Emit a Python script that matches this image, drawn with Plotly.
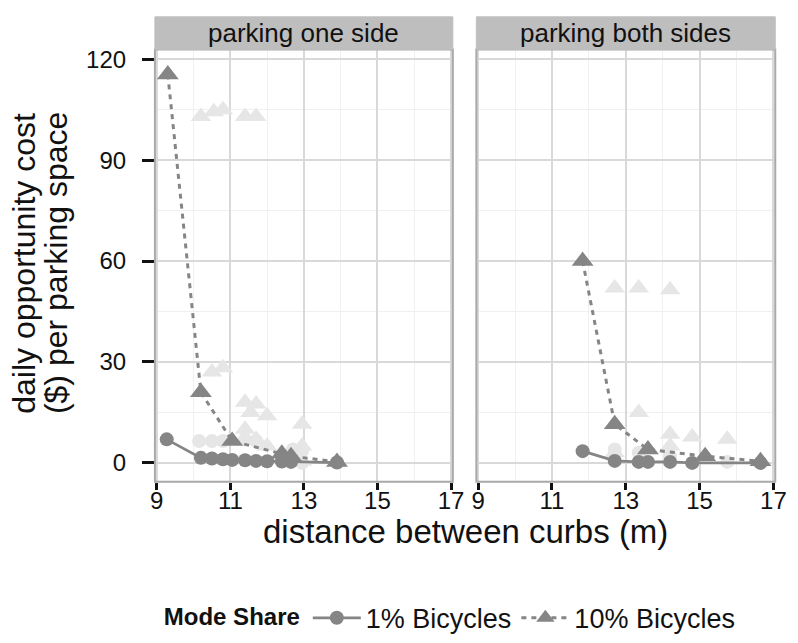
import plotly.graph_objects as go

W, H = 798, 643

# ---- data -------------------------------------------------------------
panels = ["parking one side", "parking both sides"]

# highlighted scenario, parking one side
one_x_1pct = [9.27, 10.2, 10.5, 10.8, 11.05, 11.4, 11.7, 12.0, 12.4, 12.65, 13.9]
one_y_1pct = [7.0, 1.5, 1.3, 1.1, 0.9, 0.8, 0.6, 0.5, 0.4, 0.3, 0.1]
one_x_10pct = [9.3, 10.2, 11.05, 12.4, 12.65, 13.9]
one_y_10pct = [115.5, 21.0, 6.5, 2.7, 2.0, 0.3]

# highlighted scenario, parking both sides
both_x_1pct = [11.83, 12.7, 13.35, 13.6, 14.2, 14.8, 16.65]
both_y_1pct = [3.5, 0.6, 0.3, 0.3, 0.3, 0.0, 0.0]
both_x_10pct = [11.83, 12.7, 13.6, 15.15, 16.65]
both_y_10pct = [60.0, 11.5, 4.0, 2.0, 0.5]

# other scenarios (background)
one_bg_tri_x = [10.2, 10.55, 10.8, 11.4, 11.7, 10.5, 10.8, 11.4, 11.7, 12.0, 11.55, 12.95, 11.4, 11.7, 12.0, 12.95, 12.95]
one_bg_tri_y = [103, 104.4, 105, 103, 103, 27, 28.3, 18, 17.5, 14, 15, 11.5, 10, 7, 5, 5, 0.5]
one_bg_dot_x = [10.15, 10.5, 10.8, 11.4, 11.7, 12.7, 12.95, 12.95]
one_bg_dot_y = [6.5, 6.5, 6.5, 7, 6.5, 4, 3.5, 0]

both_bg_tri_x = [12.7, 13.35, 14.2, 13.35, 14.2, 14.2, 14.8, 15.75, 12.7, 13.6]
both_bg_tri_y = [52, 52, 51.5, 15, 8.5, 5, 7.7, 7, 3, 4]
both_bg_dot_x = [12.7, 13.35, 14.2, 15.75]
both_bg_dot_y = [4, 3, 2, 0.3]

x_ticks = [9, 11, 13, 15, 17]
y_ticks = [0, 30, 60, 90, 120]

# ---- styling ----------------------------------------------------------
FONT = "Liberation Sans, Arial, Helvetica, sans-serif"
INK = "#111111"
DARK = "#858585"
FAINT = "#e6e6e6"
px_x = lambda p: p / W
px_y = lambda p: 1 - p / H

left_dom = [px_x(153), px_x(457)]
right_dom = [px_x(481), px_x(786)]
panel_top, panel_bot = 46, 483
strip_top = 13
y_dom = [px_y(panel_bot), px_y(panel_top)]

fig = go.Figure()


def add_panel(xa, ya, bg_tx, bg_ty, bg_dx, bg_dy, x1, y1, x10, y10, legend):
    fig.add_trace(go.Scatter(x=bg_tx, y=bg_ty, mode="markers", xaxis=xa, yaxis=ya,
                             marker=dict(symbol="triangle-up", size=18, color=FAINT),
                             showlegend=False, hoverinfo="skip"))
    fig.add_trace(go.Scatter(x=bg_dx, y=bg_dy, mode="markers", xaxis=xa, yaxis=ya,
                             marker=dict(symbol="circle", size=14, color=FAINT),
                             showlegend=False, hoverinfo="skip"))
    fig.add_trace(go.Scatter(x=x1, y=y1, mode="lines+markers", xaxis=xa, yaxis=ya,
                             name="1% Bicycles", legendgroup="1", showlegend=legend,
                             line=dict(color=DARK, width=2.8),
                             marker=dict(symbol="circle", size=14, color=DARK)))
    fig.add_trace(go.Scatter(x=x10, y=y10, mode="lines+markers", xaxis=xa, yaxis=ya,
                             name="10% Bicycles", legendgroup="10", showlegend=legend,
                             line=dict(color=DARK, width=3, dash="5px,5px"),
                             marker=dict(symbol="triangle-up", size=19, color=DARK)))


add_panel("x", "y", one_bg_tri_x, one_bg_tri_y, one_bg_dot_x, one_bg_dot_y,
          one_x_1pct, one_y_1pct, one_x_10pct, one_y_10pct, True)
add_panel("x2", "y2", both_bg_tri_x, both_bg_tri_y, both_bg_dot_x, both_bg_dot_y,
          both_x_1pct, both_y_1pct, both_x_10pct, both_y_10pct, False)

xcommon = dict(range=[8.95, 17.05], tickmode="array", tickvals=x_ticks,
               showgrid=True, gridcolor="#d9d9d9", gridwidth=1.8,
               minor=dict(tickmode="array", tickvals=[10, 12, 14, 16], showgrid=True,
                          gridcolor="#f0f0f0", gridwidth=1.2, ticks=""),
               ticks="outside", ticklen=7, tickwidth=2.6, tickcolor=INK,
               ticklabelstandoff=-10,
               tickfont=dict(family=FONT, size=24, color=INK),
               zeroline=False, showline=False)
ycommon = dict(range=[-5.6, 122.9], tickmode="array", tickvals=y_ticks,
               showgrid=True, gridcolor="#d9d9d9", gridwidth=1.8,
               minor=dict(tickmode="array", tickvals=[15, 45, 75, 105], showgrid=True,
                          gridcolor="#f0f0f0", gridwidth=1.2, ticks=""),
               zeroline=False, showline=False, domain=y_dom)

fig.update_layout(
    width=W, height=H, margin=dict(l=0, r=0, t=0, b=0),
    paper_bgcolor="white", plot_bgcolor="white",
    xaxis=dict(domain=left_dom, anchor="y", **xcommon),
    xaxis2=dict(domain=right_dom, anchor="y2", **xcommon),
    yaxis=dict(anchor="x", ticks="outside", ticklen=12, tickwidth=2.6, tickcolor=INK,
               ticklabelstandoff=11,
               tickfont=dict(family=FONT, size=24, color=INK), **ycommon),
    yaxis2=dict(anchor="x2", matches="y", showticklabels=False, ticks="", **ycommon),
    showlegend=True,
    legend=dict(orientation="h", x=px_x(160), xanchor="left", y=px_y(621), yanchor="middle",
                font=dict(family=FONT, size=27, color=INK),
                title=dict(text="<b>Mode Share</b>", side="left",
                           font=dict(family=FONT, size=24, color=INK)),
                itemwidth=48, tracegroupgap=0, bgcolor="rgba(0,0,0,0)"),
)

# panel borders and facet strips
for dom, label in zip([left_dom, right_dom], panels):
    fig.add_shape(type="rect", xref="paper", yref="paper",
                  x0=dom[0], x1=dom[1], y0=y_dom[0], y1=y_dom[1],
                  line=dict(color="#a9a9a9", width=2), fillcolor="rgba(0,0,0,0)", layer="above")
    fig.add_shape(type="rect", xref="paper", yref="paper",
                  x0=dom[0], x1=dom[1], y0=y_dom[1], y1=px_y(strip_top),
                  line=dict(color="#bebebe", width=1), fillcolor="#bebebe", layer="above")
    fig.add_annotation(xref="paper", yref="paper", x=(dom[0] + dom[1]) / 2,
                       y=(y_dom[1] + px_y(strip_top)) / 2, text=label, showarrow=False,
                       font=dict(family=FONT, size=26, color=INK),
                       xanchor="center", yanchor="middle")

# axis titles
fig.add_annotation(xref="paper", yref="paper", x=(left_dom[0] + right_dom[1]) / 2, y=px_y(533),
                   text="distance between curbs (m)", showarrow=False,
                   font=dict(family=FONT, size=33, color=INK),
                   xanchor="center", yanchor="middle")
for xc, line in [(20, "daily opportunity cost"), (52, "($) per parking space")]:
    fig.add_annotation(xref="paper", yref="paper", x=px_x(xc), y=px_y(262),
                       text=line, showarrow=False, textangle=-90,
                       font=dict(family=FONT, size=32, color=INK),
                       xanchor="center", yanchor="middle")

fig.write_html("out.html")
